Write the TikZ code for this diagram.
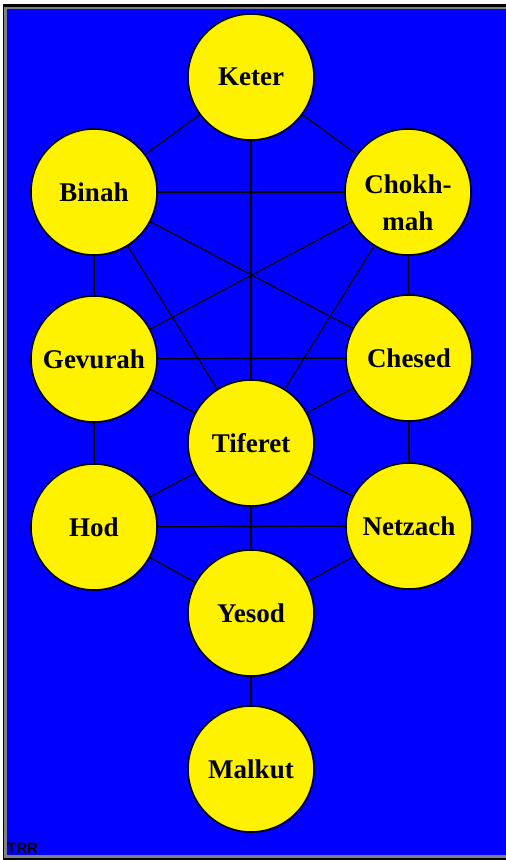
\documentclass[tikz,border=0pt]{standalone}
\usepackage{fontspec}
\setmainfont{Liberation Serif}
\newfontfamily\trrfont{Liberation Sans}
\begin{document}
\begin{tikzpicture}[x=1pt,y=-1pt,
  sefira/.style={circle, draw=black, line width=1.6pt, fill=yellow, minimum size=126pt, inner sep=0pt,
    align=center, font=\fontsize{27}{37}\selectfont\bfseries},
  sefiratext/.style={inner sep=0pt, align=center, font=\fontsize{27}{37}\selectfont\bfseries},
  path/.style={draw=black, line width=1.2pt}]
\useasboundingbox (0,0) rectangle (506,860);
\fill[white] (0,0) rectangle (506,860);
\fill[black] (2.5,3.5) rectangle (506,860);
\fill[gray] (4,7) rectangle (506,858);
\fill[blue] (7,8.5) rectangle (506,855);
\node[sefira] (keter) at (251,77) {Keter};
\node[sefira] (binah) at (94,192) {Binah};
\node[sefira] (chokhmah) at (408,192) {};
\node[sefiratext] (chokhmahtext) at (408,203) {Chokh-\\mah};
\node[sefira] (gevurah) at (94,359) {Gevurah};
\node[sefira] (chesed) at (409,358) {Chesed};
\node[sefira] (tiferet) at (251,443) {Tiferet};
\node[sefira] (hod) at (94,527) {Hod};
\node[sefira] (netzach) at (409,526) {Netzach};
\node[sefira] (yesod) at (251,613) {Yesod};
\node[sefira] (malkut) at (251,769) {Malkut};
\node[anchor=south west, inner sep=0pt, font=\trrfont\bfseries\fontsize{15}{15}\selectfont] (trr) at (7,854) {TRR};
\draw[path] (keter) -- (binah);
\draw[path] (keter) -- (chokhmah);
\draw[path] (keter) -- (tiferet);
\draw[path] (binah) -- (chokhmah);
\draw[path] (binah) -- (gevurah);
\draw[path] (chokhmah) -- (chesed);
\draw[path] (binah) -- (tiferet);
\draw[path] (chokhmah) -- (tiferet);
\draw[path] (binah) -- (chesed);
\draw[path] (chokhmah) -- (gevurah);
\draw[path] (gevurah) -- (chesed);
\draw[path] (gevurah) -- (tiferet);
\draw[path] (chesed) -- (tiferet);
\draw[path] (gevurah) -- (hod);
\draw[path] (chesed) -- (netzach);
\draw[path] (hod) -- (tiferet);
\draw[path] (netzach) -- (tiferet);
\draw[path] (hod) -- (netzach);
\draw[path] (tiferet) -- (yesod);
\draw[path] (hod) -- (yesod);
\draw[path] (netzach) -- (yesod);
\draw[path] (yesod) -- (malkut);
\end{tikzpicture}
\end{document}
